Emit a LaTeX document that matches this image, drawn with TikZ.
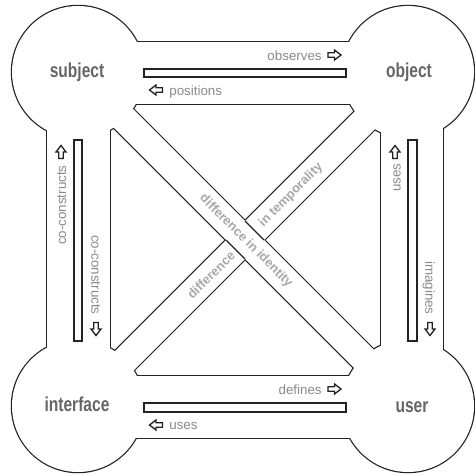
\documentclass[tikz,border=0pt]{standalone}
\usepackage{fontspec}
\setmainfont{Liberation Sans}
\definecolor{bigc}{HTML}{666666}
\definecolor{smc}{HTML}{8A8A8A}
\definecolor{dgc}{HTML}{A8A8A8}
\definecolor{linec}{HTML}{222222}
\newcommand\allshapes[1]{%
 \path[#1] (78,72) circle[radius=66];
 \path[#1] (408,72) circle[radius=66];
 \path[#1] (78,406) circle[radius=66];
 \path[#1] (408,406) circle[radius=66];
 \path[#1] (78,42) rectangle (408,104);
 \path[#1] (78,376) rectangle (408,438);
 \path[#1] (47,72) rectangle (110,406);
 \path[#1] (381,72) rectangle (443,406);
 \path[#1] (90,66) -- (400,376) -- (380,394) -- (70,84) -- cycle;
 \path[#1] (70,396) -- (380,86) -- (400,104) -- (90,414) -- cycle;
}
\tikzset{
 bigl/.style={text=bigc, font=\fontsize{11.5}{13}\selectfont\bfseries, inner sep=0},
 smalll/.style={text=smc, font=\fontsize{7.6}{9}\selectfont, inner sep=0},
 diagl/.style={text=dgc, font=\fontsize{7.3}{9}\selectfont\bfseries, inner sep=0},
 outl/.style={draw=linec, line width=0.7pt},
 harrow/.pic={\draw[draw=linec, line width=0.75pt, line join=miter, fill=white]
   (-6.5,-2.3) -- (0,-2.3) -- (0,-5) -- (6.5,0) -- (0,5) -- (0,2.3) -- (-6.5,2.3) -- cycle;}
}
\begin{document}
\begin{tikzpicture}[x=0.02cm,y=-0.02cm]
\useasboundingbox (0,0) rectangle (475,475);
\allshapes{draw=linec, line width=1.4pt}
\allshapes{fill=white}
% continuous edges of the TL-BR band through the crossing
\draw[outl] (245,221) -- (264,240);
\draw[outl] (226,240) -- (245,259);
% inner bars
\draw[outl] (144,69) rectangle (346,77);
\draw[outl] (144,403) rectangle (346,412);
\draw[outl] (74,140) rectangle (82,341);
\draw[outl] (408,140) rectangle (417,341);
% main labels
\node[bigl] (subj) at (77,72) {\scalebox{0.77}[1]{subject}};
\node[bigl] (obj) at (409,72) {\scalebox{0.77}[1]{object}};
\node[bigl] (intf) at (77,404) {\scalebox{0.77}[1]{interface}};
\node[bigl] (usr) at (412,407) {\scalebox{0.77}[1]{user}};
% relation labels
\node[smalll, anchor=mid east] (obs) at (322,55.5) {observes};
\pic at (334.5,55) {harrow};
\node[smalll, anchor=mid west] (pos) at (169,91) {positions};
\pic[rotate=180] at (156,90) {harrow};
\node[smalll, anchor=mid east] (def) at (322,390) {defines};
\pic at (334.5,389) {harrow};
\node[smalll, anchor=mid west] (usesb) at (169,425) {uses};
\pic[rotate=180] at (156,425) {harrow};
\node[smalll, rotate=90, anchor=mid east] (cca) at (61.5,165) {co-constructs};
\pic[rotate=90] at (61,152) {harrow};
\node[smalll, rotate=-90, anchor=mid east] (ccb) at (96,315) {co-constructs};
\pic[rotate=-90] at (96,329) {harrow};
\node[smalll, rotate=90, anchor=mid east] (usesr) at (396,163) {uses};
\pic[rotate=90] at (395,152) {harrow};
\node[smalll, rotate=-90, anchor=mid east] (img) at (430,315) {imagines};
\pic[rotate=-90] at (430,329) {harrow};
% diagonal labels
\node[diagl, rotate=-45] (dii) at (246,241) {difference in identity};
\node[diagl, rotate=45] (dit) at (291,195) {in temporality};
\node[diagl, rotate=45] (dif) at (211,275) {difference};
\end{tikzpicture}
\end{document}
